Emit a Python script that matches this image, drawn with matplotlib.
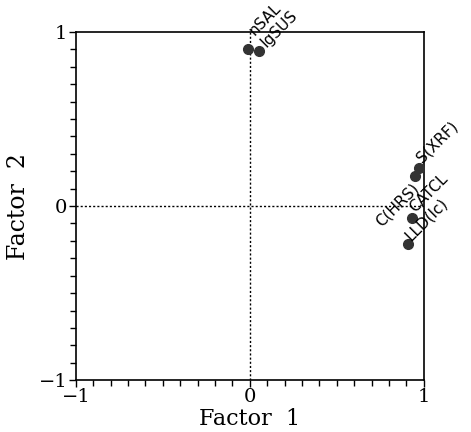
import numpy as np
import matplotlib.pyplot as plt
from matplotlib.ticker import MultipleLocator

# loadings
names = ["nSAL", "IgSUS", "S(XRF)", "C(HRS)", "CATCL", "LLD(lc)"]
f1 = [-0.01, 0.05, 0.97, 0.95, 0.93, 0.91]
f2 = [0.90, 0.89, 0.22, 0.17, -0.07, -0.22]

plt.figure(figsize=(4.71, 4.32), dpi=100)
ax = plt.axes([0.161, 0.120, 0.739, 0.806])

ax.axvline(0, color="k", lw=1.0, ls=(0, (1.5, 1.5)))
ax.axhline(0, color="k", lw=1.0, ls=(0, (1.5, 1.5)))
ax.plot(f1, f2, "o", ms=7, color="#333333", zorder=3)

# label offsets (points); C(HRS) is written so that it ends at its point
offs = {"nSAL": (6, 8), "IgSUS": (7, 1), "S(XRF)": (4, 2),
        "CATCL": (4, 2), "LLD(lc)": (3, 1)}
for n, x, y in zip(names, f1, f2):
    if n in offs:
        ax.annotate(n, (x, y), xytext=offs[n], textcoords="offset points",
                    rotation=45, ha="left", va="bottom", fontsize=11,
                    rotation_mode="anchor", family="DejaVu Sans")
    else:
        ax.annotate(n, (x, y), xytext=(-3, -3), textcoords="offset points",
                    rotation=45, ha="right", va="top", fontsize=11,
                    rotation_mode="anchor", family="DejaVu Sans")

ax.set_xlim(-1, 1)
ax.set_ylim(-1, 1)
ax.set_xticks([-1, 0, 1])
ax.set_yticks([-1, 0, 1])
ax.set_xticklabels(["\u22121", "0", "1"], family="DejaVu Serif", fontsize=14)
ax.set_yticklabels(["\u22121", "0", "1"], family="DejaVu Serif", fontsize=14)
ax.xaxis.set_minor_locator(MultipleLocator(0.1))
ax.yaxis.set_minor_locator(MultipleLocator(0.1))
ax.tick_params(which="both", direction="out", length=4, width=1, pad=1)
ax.tick_params(which="major", length=5)
for sp in ax.spines.values():
    sp.set_linewidth(1.2)

ax.set_xlabel("Factor  1", family="DejaVu Serif", fontsize=16, labelpad=1)
ax.set_ylabel("Factor  2", family="DejaVu Serif", fontsize=17, labelpad=6)

plt.savefig("out.png", dpi=100)
